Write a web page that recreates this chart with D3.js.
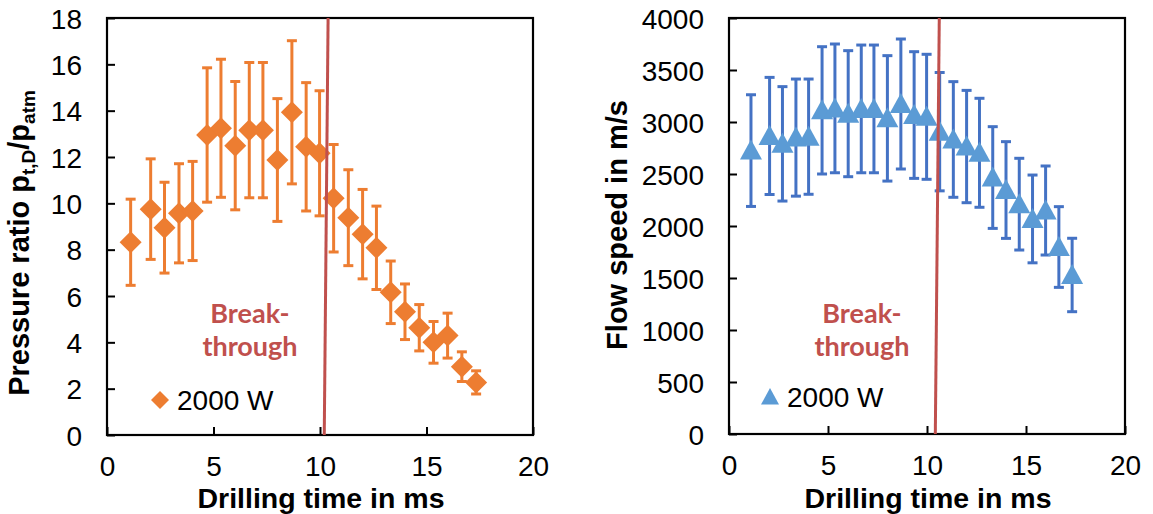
<!DOCTYPE html>
<html><head><meta charset="utf-8">
<script src="https://cdn.jsdelivr.net/npm/d3@7"></script>
<style>
body{margin:0;background:#fff;}
text{font-family:"Liberation Sans",Arial,sans-serif;}
</style></head>
<body>
<svg id="c" width="1153" height="514"></svg>
<script>
// Drilling time (ms)
const time = [1.11, 2.05, 2.70, 3.38, 4.02, 4.70, 5.35, 6.02, 6.68, 7.32, 8.00, 8.68, 9.35, 9.98, 10.64, 11.33, 12.00, 12.65, 13.32, 13.99, 14.66, 15.33, 15.99, 16.66, 17.33];
// Pressure ratio and its error
const pressure = [8.32, 9.75, 8.95, 9.57, 9.67, 12.95, 13.24, 12.49, 13.16, 13.16, 11.87, 13.93, 12.44, 12.16, 10.22, 9.38, 8.67, 8.08, 6.16, 5.32, 4.63, 4.00, 4.29, 2.95, 2.27];
const pressureErr = [1.86, 2.17, 1.96, 2.14, 2.14, 2.90, 2.98, 2.77, 2.92, 2.92, 2.65, 3.09, 2.77, 2.70, 2.32, 2.07, 1.93, 1.80, 1.35, 1.20, 1.00, 0.90, 0.97, 0.64, 0.50];
// Flow speed (m/s) and its error
const speed = [2725, 2866, 2790, 2850, 2859, 3112, 3131, 3080, 3126, 3126, 3035, 3173, 3067, 3050, 2907, 2832, 2764, 2704, 2466, 2346, 2210, 2068, 2149, 1798, 1529];
const speedErr = [537, 563, 550, 563, 554, 612, 619, 606, 614, 614, 603, 625, 609, 601, 569, 556, 540, 524, 489, 465, 441, 422, 428, 388, 353];
// Axis ticks
const xTicks = [0, 5, 10, 15, 20];
const pressureTicks = [0, 2, 4, 6, 8, 10, 12, 14, 16, 18];
const speedTicks = [0, 500, 1000, 1500, 2000, 2500, 3000, 3500, 4000];
// Breakthrough lines [x at bottom, x at top]
const breakP = [10.20, 10.38];
const breakS = [10.42, 10.62];
const legendLabel = "2000 W";

const svg = d3.select("#c");

function panel(o){
  const g = svg.append("g");
  const x = d3.scaleLinear().domain([0,20]).range([o.left, o.right]);
  const y = d3.scaleLinear().domain(o.ydomain).range([o.bottom, o.top]);

  const ax = g.append("g").attr("transform",`translate(0,${o.bottom})`)
    .call(d3.axisBottom(x).tickValues(xTicks).tickSize(-8).tickPadding(21).tickFormat(d3.format("d")));
  const ay = g.append("g").attr("transform",`translate(${o.left},0)`)
    .call(d3.axisLeft(y).tickValues(o.yticks).tickSize(-8).tickPadding(25).tickFormat(d3.format("d")));
  [ax,ay].forEach(a=>{
    a.select(".domain").remove();
    a.selectAll(".tick line").attr("stroke","#000").attr("stroke-width",2);
    a.selectAll(".tick text").attr("font-size",28).attr("fill","#000")
      .attr("font-family",'"Liberation Sans",Arial,sans-serif');
  });
  ay.selectAll(".tick text").attr("dy","0.36em");

  g.append("rect").attr("x",o.left).attr("y",o.top)
    .attr("width",o.right-o.left).attr("height",o.bottom-o.top)
    .attr("fill","none").attr("stroke","#000").attr("stroke-width",2.2);

  const data = time.map((t,i)=>({t, v:o.values[i], e:o.errs[i]}));
  const eb = g.append("g").attr("stroke",o.errColor).attr("stroke-width",3).attr("fill","none");
  data.forEach(d=>{
    const cx = x(d.t), y1 = y(d.v+d.e), y0 = y(d.v-d.e);
    eb.append("line").attr("x1",cx).attr("x2",cx).attr("y1",y1).attr("y2",y0);
    eb.append("line").attr("x1",cx-5).attr("x2",cx+5).attr("y1",y1).attr("y2",y1);
    eb.append("line").attr("x1",cx-5).attr("x2",cx+5).attr("y1",y0).attr("y2",y0);
  });
  g.append("g").selectAll("path").data(data).join("path")
    .attr("transform",d=>`translate(${x(d.t)},${y(d.v)})`)
    .attr("d",o.marker).attr("fill",o.color);

  // breakthrough label
  const bt = g.append("text").attr("text-anchor","middle").attr("fill","#c0504d")
    .attr("font-weight","bold").attr("font-size",27).style("font-family","Lato,'Open Sans',sans-serif");
  bt.append("tspan").attr("x",o.btx).attr("y",323).text("Break-");
  bt.append("tspan").attr("x",o.btx).attr("y",356).text("through");

  // legend
  g.append("path").attr("transform",`translate(${o.legx},${o.legy})`).attr("d",o.legMarker).attr("fill",o.color);
  g.append("text").attr("x",o.legx+17).attr("y",o.legy+10).attr("font-size",28).attr("fill","#000").text(legendLabel);

  // breakthrough line
  g.append("line").attr("x1",x(o.brk[0])).attr("y1",y(o.ydomain[0]))
    .attr("x2",x(o.brk[1])).attr("y2",y(o.ydomain[1]))
    .attr("stroke","#c0504d").attr("stroke-width",3);

  // axis titles
  g.append("text").attr("x",(o.left+o.right)/2+1).attr("y",508).attr("text-anchor","middle")
    .attr("font-weight","bold").attr("font-size",28.5).attr("fill","#000").text("Drilling time in ms");
  const yt = g.append("text").attr("transform",`translate(${o.ytx},${o.yty}) rotate(-90)`)
    .attr("text-anchor","middle").attr("font-weight","bold").attr("font-size",29).attr("fill","#000");
  o.ytitle(yt);
}

const diamond = "M0,-11L11,0L0,11L-11,0Z";
const diamondLeg = "M0,-9L9,0L0,9L-9,0Z";
const tri = "M0,-11L11,9L-11,9Z";
const triLeg = "M0,-9L9,7.5L-9,7.5Z";

panel({left:107,right:533,top:18,bottom:435,ydomain:[0,18],yticks:pressureTicks,
  values:pressure,errs:pressureErr,color:"#ed7d31",errColor:"#ed7d31",marker:diamond,legMarker:diamondLeg,
  legx:160,legy:400,btx:250,brk:breakP,ytx:29,yty:243,
  ytitle:t=>{
    t.append("tspan").text("Pressure ratio p");
    t.append("tspan").attr("font-size",19).attr("dy",6).text("t,D");
    t.append("tspan").attr("dy",-6).text("/p");
    t.append("tspan").attr("font-size",19).attr("dy",6).text("atm");
  }});
panel({left:729,right:1125,top:18,bottom:434,ydomain:[0,4000],yticks:speedTicks,
  values:speed,errs:speedErr,color:"#5b9bd5",errColor:"#4472c4",marker:tri,legMarker:triLeg,
  legx:770,legy:397,btx:862,brk:breakS,ytx:627,yty:225,
  ytitle:t=>{ t.text("Flow speed in m/s"); }});
</script>
</body></html>
